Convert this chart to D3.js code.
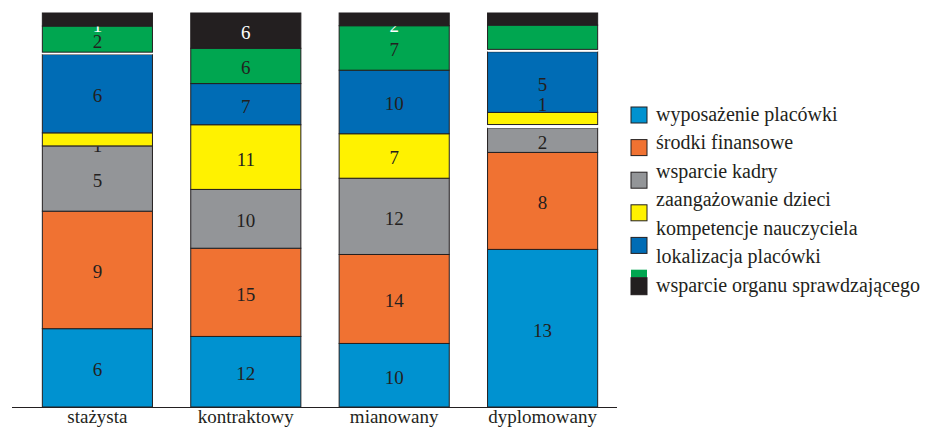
<!DOCTYPE html>
<html lang="pl">
<head>
<meta charset="utf-8">
<script src="https://cdn.jsdelivr.net/npm/d3@7"></script>
<style>
  html, body { margin: 0; padding: 0; background: #fff; }
  svg { display: block; }
</style>
</head>
<body>
<svg id="chart" width="929" height="427"></svg>
<script>
// Grupy nauczycieli (oś X)
const categories = ["stażysta", "kontraktowy", "mianowany", "dyplomowany"];

// Wartości poszczególnych czynników w każdej grupie
const wyposazenie = [6, 12, 10, 13];
const srodki      = [9, 15, 14, 8];
const kadra       = [5, 10, 12, 2];
const dzieci      = [1, 11, 7, 1];
const kompetencje = [6, 7, 10, 5];
const lokalizacja = [2, 6, 7, 2];
const organ       = [1, 6, 2, 1];

// Wąskie białe przerwy widoczne w niektórych słupkach
const przerwaNizsza = [0, 0, 0, 0.3];
const przerwaWyzsza = [0.18, 0, 0, 0.2];

const seriesNames = [
  "wyposażenie placówki",
  "środki finansowe",
  "wsparcie kadry",
  "zaangażowanie dzieci",
  "kompetencje nauczyciela",
  "lokalizacja placówki",
  "wsparcie organu sprawdzającego"
];
const seriesColors = ["#0092d0", "#f07232", "#939598", "#fff200", "#006cb5", "#00a650", "#231f20"];

// Segmenty bez wypisanej wartości
const unlabeled = [["lokalizacja placówki", "dyplomowany"], ["wsparcie organu sprawdzającego", "dyplomowany"]];

const FONT = "'Liberation Serif', 'DejaVu Serif', 'Times New Roman', serif";
const INK = "#231f20";

// Kolejność w stosie (od dołu)
const stackKeys = ["w0", "w1", "w2", "gapLow", "w3", "w4", "gapHigh", "w5", "w6"];
const seriesValues = {
  w0: wyposazenie, w1: srodki, w2: kadra, gapLow: przerwaNizsza,
  w3: dzieci, w4: kompetencje, gapHigh: przerwaWyzsza, w5: lokalizacja, w6: organ
};
const keyToSeries = { w0: 0, w1: 1, w2: 2, w3: 3, w4: 4, w5: 5, w6: 6 };

const rows = categories.map((c, i) => {
  const r = { category: c };
  stackKeys.forEach(k => { r[k] = seriesValues[k][i]; });
  return r;
});

const stacked = d3.stack().keys(stackKeys).offset(d3.stackOffsetExpand)(rows);

const svg = d3.select("#chart");
const baseY = 407;

const x = d3.scaleBand()
  .domain(categories)
  .range([23.2, 616.8])
  .paddingInner(0.258)
  .paddingOuter(0.129);

const y = d3.scaleLinear().domain([0, 1]).range([baseY, 13]);

const defs = svg.append("defs");
const barsG = svg.append("g");
const labelsG = svg.append("g");

stacked.forEach(layer => {
  const key = layer.key;
  const isGap = !(key in keyToSeries);
  const sIdx = keyToSeries[key];
  barsG.append("g")
    .selectAll("rect")
    .data(layer)
    .join("rect")
    .attr("x", d => x(d.data.category))
    .attr("width", x.bandwidth())
    .attr("y", d => y(d[1]))
    .attr("height", d => Math.max(0, y(d[0]) - y(d[1])))
    .attr("fill", isGap ? "#ffffff" : seriesColors[sIdx])
    .attr("stroke", isGap ? "none" : INK)
    .attr("stroke-width", 1);
});

// Etykiety wartości
let clipId = 0;
stacked.forEach((layer, li) => {
  const key = layer.key;
  if (!(key in keyToSeries)) return;
  const sIdx = keyToSeries[key];
  const name = seriesNames[sIdx];
  const below = li > 0 ? stacked[li - 1] : null;
  layer.forEach((d, ci) => {
    const cat = d.data.category;
    if (unlabeled.some(u => u[0] === name && u[1] === cat)) return;
    const value = seriesValues[key][ci];
    const top = y(d[1]), bottom = y(d[0]);
    const h = bottom - top;
    const cx = x(cat) + x.bandwidth() / 2;
    const belowIsGap = below && !(below.key in keyToSeries) && seriesValues[below.key][ci] > 0;
    const t = labelsG.append("text")
      .attr("x", cx)
      .attr("text-anchor", "middle")
      .attr("dominant-baseline", "central")
      .attr("font-family", FONT)
      .attr("font-size", 19)
      .attr("fill", sIdx === 6 ? "#ffffff" : INK)
      .text(value);
    if (h < 16) {
      if (belowIsGap) {
        t.attr("y", top - 8);
      } else {
        // mała etykieta częściowo przesłonięta przez własny segment
        const id = "clip" + (clipId++);
        defs.append("clipPath").attr("id", id)
          .append("rect")
          .attr("x", x(cat)).attr("width", x.bandwidth())
          .attr("y", bottom + 0.5).attr("height", 8);
        t.attr("y", (top + bottom) / 2 + 6).attr("clip-path", `url(#${id})`);
      }
    } else {
      t.attr("y", (top + bottom) / 2 + 2);
    }
  });
});

// Oś X
svg.append("line")
  .attr("x1", 12).attr("x2", 617)
  .attr("y1", baseY + 0.5).attr("y2", baseY + 0.5)
  .attr("stroke", INK).attr("stroke-width", 1.2);

svg.append("g")
  .selectAll("text")
  .data(categories)
  .join("text")
  .attr("x", d => x(d) + x.bandwidth() / 2)
  .attr("y", 423)
  .attr("text-anchor", "middle")
  .attr("font-family", FONT)
  .attr("font-size", 19)
  .attr("fill", INK)
  .text(d => d);

// Legenda
const legend = svg.append("g");
const legendX = 631, textX = 656, sw = 16;
const textBase = i => 121 + i * 28.45;
seriesNames.forEach((name, i) => {
  legend.append("text")
    .attr("x", textX)
    .attr("y", textBase(i))
    .attr("font-family", FONT)
    .attr("font-size", 20)
    .attr("fill", INK)
    .text(name);
});
for (let i = 0; i < 5; i++) {
  const cy = 115 + i * 32.6;
  legend.append("rect")
    .attr("x", legendX).attr("y", cy - sw / 2)
    .attr("width", sw).attr("height", sw)
    .attr("fill", seriesColors[i])
    .attr("stroke", INK).attr("stroke-width", 1);
}
const blackTop = textBase(6) - 14;
legend.append("rect")
  .attr("x", legendX).attr("y", blackTop - 8)
  .attr("width", sw).attr("height", 8)
  .attr("fill", seriesColors[5]);
legend.append("rect")
  .attr("x", legendX).attr("y", blackTop)
  .attr("width", sw).attr("height", 17)
  .attr("fill", seriesColors[6])
  .attr("stroke", INK).attr("stroke-width", 1);
</script>
</body>
</html>
